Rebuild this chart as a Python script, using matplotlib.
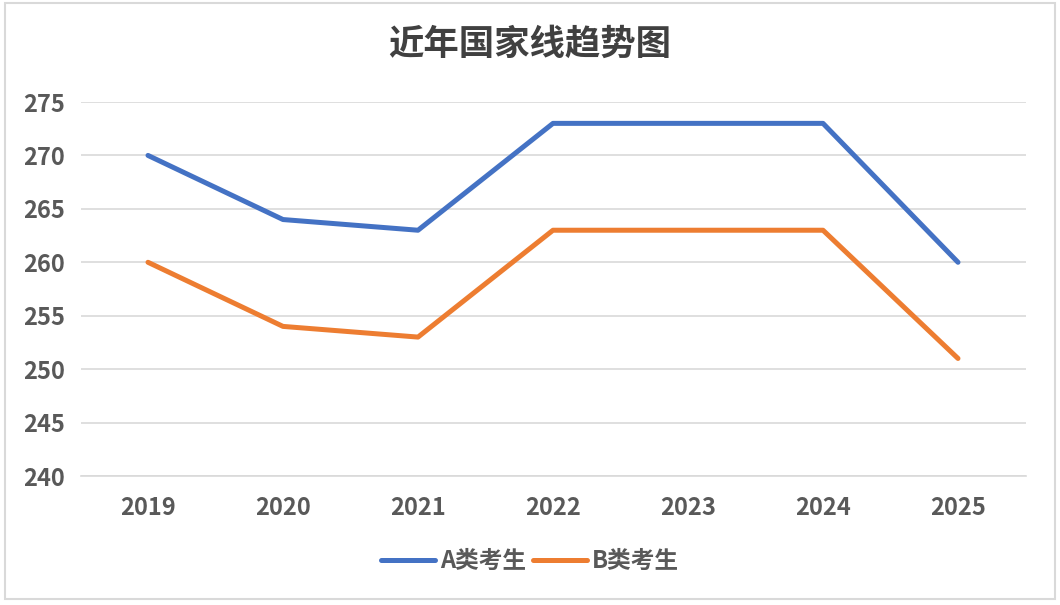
import matplotlib
matplotlib.use("Agg")
import matplotlib.pyplot as plt
from matplotlib.patches import Rectangle

plt.rcParams['font.family'] = ['Noto Sans CJK SC', 'DejaVu Sans']

years = ["2019", "2020", "2021", "2022", "2023", "2024", "2025"]
series_a = [270, 264, 263, 273, 273, 273, 260]
series_b = [260, 254, 253, 263, 263, 263, 251]
label_a = "A类考生"
label_b = "B类考生"
title = "近年国家线趋势图"
yticks = [240, 245, 250, 255, 260, 265, 270, 275]

W, H = 1060, 605
fig = plt.figure(figsize=(W / 100, H / 100), dpi=100)
ax = fig.add_axes([80.5 / W, 1 - 476 / H, (1025.5 - 80.5) / W, (476 - 102) / H])

x = list(range(len(years)))
ax.plot(x, series_a, color="#4472C4", lw=3.6, solid_capstyle="round", solid_joinstyle="round", label=label_a)
ax.plot(x, series_b, color="#ED7D31", lw=3.6, solid_capstyle="round", solid_joinstyle="round", label=label_b)

ax.set_xlim(-0.5, len(years) - 0.5)
ax.set_ylim(240, 275)
ax.set_yticks(yticks)
ax.set_xticks(x)
ax.set_xticklabels(years)
ax.grid(axis="y", color="#D9D9D9", lw=1.2)
ax.set_axisbelow(True)
for s in ["top", "right", "left"]:
    ax.spines[s].set_visible(False)
ax.spines["bottom"].set_color("#D9D9D9")
ax.spines["bottom"].set_linewidth(1.2)
ax.tick_params(axis="both", length=0, labelsize=17, labelcolor="#595959")
ax.tick_params(axis="y", pad=11)
ax.tick_params(axis="x", pad=14.5)
for lab in ax.get_xticklabels() + ax.get_yticklabels():
    lab.set_fontweight("bold")

fig.text(530 / W, 1 - 44 / H, title, ha="center", va="center", fontsize=25.5,
         fontweight="bold", color="#404040")

leg = fig.legend(loc="center", bbox_to_anchor=(530 / W, 1 - 561 / H), ncol=2,
                 frameon=False, handlelength=2.3, handletextpad=0.2, columnspacing=0.3,
                 prop={"size": 17, "weight": "bold"})
for t in leg.get_texts():
    t.set_color("#595959")

fig.patches.append(Rectangle((5 / W, 6 / H), (1055 - 5) / W, (602 - 6) / H,
                             transform=fig.transFigure, fill=False,
                             edgecolor="#D9D9D9", lw=1.5))

fig.savefig("out.png", dpi=100, facecolor="white")
